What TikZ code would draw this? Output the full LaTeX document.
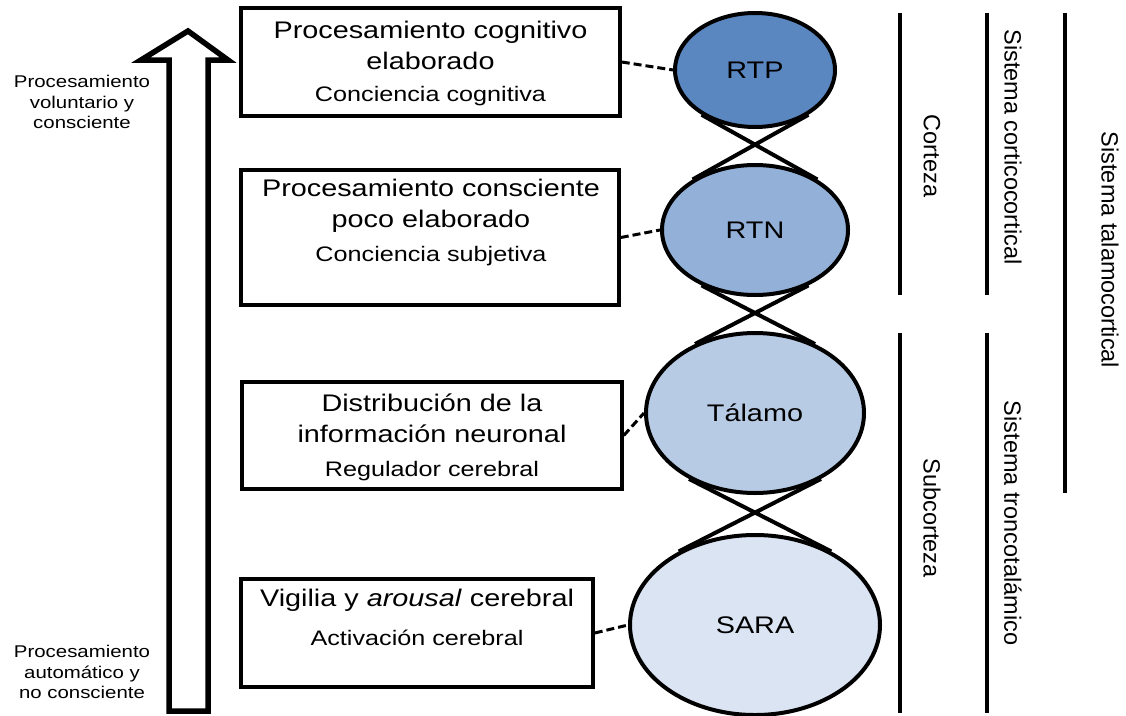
\documentclass[tikz,border=0pt]{standalone}
\usepackage{fontspec}
\setmainfont{Liberation Sans}[FakeStretch=1.2]
\newfontfamily\rotfont{Liberation Sans}
\usetikzlibrary{shapes.geometric,backgrounds}
\definecolor{rtpcol}{RGB}{91,135,193}
\definecolor{rtncol}{RGB}{147,177,216}
\definecolor{talcol}{RGB}{184,203,229}
\definecolor{saracol}{RGB}{218,228,242}
\begin{document}
\begin{tikzpicture}[x=1pt,y=-1pt,
	caja/.style={draw,line width=3.5pt,inner sep=0pt},
	tit/.style={font=\fontsize{24}{31}\selectfont,align=center,inner sep=0pt},
	sub/.style={font=\fontsize{21}{25}\selectfont,inner sep=0pt},
	lbl/.style={font=\fontsize{17}{20.5}\selectfont,align=center,inner sep=0pt},
	nucleo/.style={ellipse,draw,line width=4pt,inner sep=0pt,font=\fontsize{24}{28}\selectfont},
	lado/.style={rotate=-90,font=\rotfont\fontsize{23.5}{28}\selectfont,inner sep=0pt},
	enlace/.style={line width=3pt,dash pattern=on 8pt off 4pt},
	cruce/.style={line width=4pt},
	barra/.style={line width=4.5pt}]
	\useasboundingbox (0,0) rectangle (1126,715);
	% flecha
	\draw[line width=5.5pt] (169,711)--(169,60)--(141,60)--(188,31)--(228,60)--(208,60)--(208,711)--cycle;
	\node[lbl] (vol) at (82,102) {Procesamiento\\voluntario y\\consciente};
	\node[lbl] (aut) at (82,672) {Procesamiento\\autom\'atico y\\no consciente};
	% cajas
	\node[caja,minimum width=379,minimum height=108] (c1) at (430.5,62) {};
	\node[caja,minimum width=378,minimum height=135] (c2) at (430,237.5) {};
	\node[caja,minimum width=380,minimum height=107] (c3) at (432,435.5) {};
	\node[caja,minimum width=352,minimum height=108] (c4) at (417,633) {};
	\node[tit] (t1) at (430.5,45) {Procesamiento cognitivo\\elaborado};
	\node[sub] (s1) at (430.5,96) {Conciencia cognitiva};
	\node[tit] (t2) at (431,206) {Procesamiento consciente\\poco elaborado};
	\node[sub] (s2) at (431,256) {Conciencia subjetiva};
	\node[tit] (t3) at (432,418) {Distribución de la\\información neuronal};
	\node[sub] (s3) at (432,471) {Regulador cerebral};
	\node[tit] (t4) at (417,600) {Vigilia y \textit{arousal} cerebral};
	\node[sub] (s4) at (417,638) {Activación cerebral};
	% nucleos
	\node[nucleo,fill=rtpcol,minimum width=160,minimum height=114] (rtp) at (755,70) {RTP};
	\node[nucleo,fill=rtncol,minimum width=186,minimum height=130] (rtn) at (755,230) {RTN};
	\node[nucleo,fill=talcol,minimum width=218,minimum height=160] (tal) at (755,413) {Tálamo};
	\node[nucleo,fill=saracol,minimum width=250,minimum height=180] (sara) at (755,625) {SARA};
	\begin{scope}[on background layer]
		\draw[cruce] (rtp.-140)--(rtn.39) (rtp.-40)--(rtn.141);
		\draw[cruce] (rtn.-134)--(tal.49) (rtn.-46)--(tal.131);
		\draw[cruce] (tal.-135)--(sara.44) (tal.-45)--(sara.136);
	\end{scope}
	\draw[enlace] (c1.east)--(rtp.west);
	\draw[enlace] (c2.east)--(rtn.west);
	\draw[enlace] (c3.east)--(tal.west);
	\draw[enlace] (c4.east)--(sara.west);
	% sistemas
	\draw[barra] (900,13)--(900,295) (900,333)--(900,713);
	\draw[barra] (987,13)--(987,295) (987,333)--(987,713);
	\draw[barra] (1065,13)--(1065,493);
	\node[lado] (cor) at (932,156) {Corteza};
	\node[lado] (subc) at (932,518) {Subcorteza};
	\node[lado] (scc) at (1013,147) {Sistema corticocortical};
	\node[lado] (stt) at (1013,523) {Sistema troncotalámico};
	\node[lado] (stc) at (1110,250) {Sistema talamocortical};
\end{tikzpicture}
\end{document}
